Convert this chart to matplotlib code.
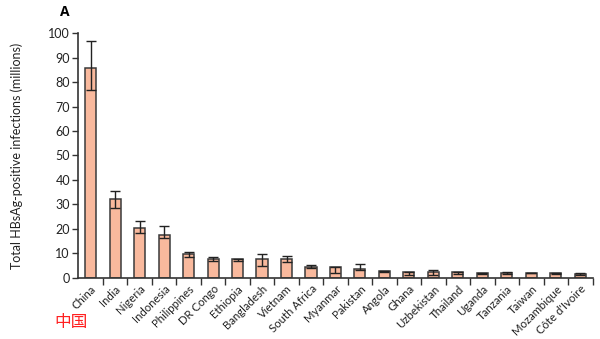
import matplotlib
matplotlib.use("Agg")
import matplotlib.pyplot as plt
import numpy as np

countries = ["China", "India", "Nigeria", "Indonesia", "Philippines", "DR Congo",
             "Ethiopia", "Bangladesh", "Vietnam", "South Africa", "Myanmar",
             "Pakistan", "Angola", "Ghana", "Uzbekistan", "Thailand", "Uganda",
             "Tanzania", "Taiwan", "Mozambique", "C\u00f4te d'Ivoire"]
values = [85.7, 32.2, 20.2, 17.3, 9.6, 7.5, 7.5, 7.5, 7.5, 4.2, 4.2,
          3.6, 2.6, 2.3, 2.2, 2.2, 1.9, 2.0, 2.0, 1.9, 1.6]
err_low = [76.8, 28.6, 18.2, 16.1, 8.6, 6.7, 6.8, 4.7, 6.3, 4.0, 2.0,
           3.1, 2.3, 1.2, 1.2, 1.4, 1.5, 1.5, 1.9, 1.5, 1.2]
err_high = [97.0, 35.3, 23.2, 21.0, 10.6, 8.3, 7.8, 9.6, 9.0, 5.1, 4.4,
            5.7, 2.9, 2.4, 3.0, 2.3, 2.0, 2.4, 2.1, 2.1, 1.8]
yticks = list(range(0, 101, 10))

plt.rcParams['font.family'] = ['Lato', 'DejaVu Sans']

fig = plt.figure(figsize=(6, 3.39), dpi=100)
ax = fig.add_axes([0.1305, 0.1808, 0.8573, 0.721])

x = np.arange(len(countries))
vals = np.array(values)
lo = vals - np.array(err_low)
hi = np.array(err_high) - vals
ax.bar(x, vals, width=0.45, color='#F9B99D', edgecolor='#3a3a3a', linewidth=1.1, zorder=2)
ax.errorbar(x, vals, yerr=[lo, hi], fmt='none', ecolor='#222222', elinewidth=1.0,
            capsize=3.5, capthick=1.0, zorder=3)

ax.set_xlim(-0.5, len(countries) - 0.5)
ax.set_ylim(0, 100)
ax.set_yticks(yticks)
ax.tick_params(axis='y', labelsize=9, length=4, width=1, color='#333333', pad=2,
               labelcolor='#222222')

ax.set_xticks(x)
ax.set_xticklabels(countries, rotation=45, ha='right', rotation_mode='anchor', fontsize=8.2,
                   color='#222222')
ax.tick_params(axis='x', which='major', length=0, pad=4)
ax.set_xticks(np.arange(0.5, len(countries), 1.0), minor=True)
ax.tick_params(axis='x', which='minor', length=5, width=1, color='#333333')

for s in ['top', 'right']:
    ax.spines[s].set_visible(False)
for s in ['left', 'bottom']:
    ax.spines[s].set_linewidth(1.2)
    ax.spines[s].set_color('#333333')

ax.set_ylabel('Total HBsAg-positive infections (millions)', fontsize=9, labelpad=18,
              color='#222222')

fig.text(65 / 600, 1 - 12 / 339, 'A', fontsize=10, fontweight='bold', ha='center', va='center',
         family=['Open Sans', 'DejaVu Sans'])
fig.text(71 / 600, 1 - 322 / 339, '中国', fontsize=12, color='#ff2020', ha='center', va='center',
         family=['Noto Sans CJK SC', 'DejaVu Sans'])

fig.savefig('out.png', dpi=100)
